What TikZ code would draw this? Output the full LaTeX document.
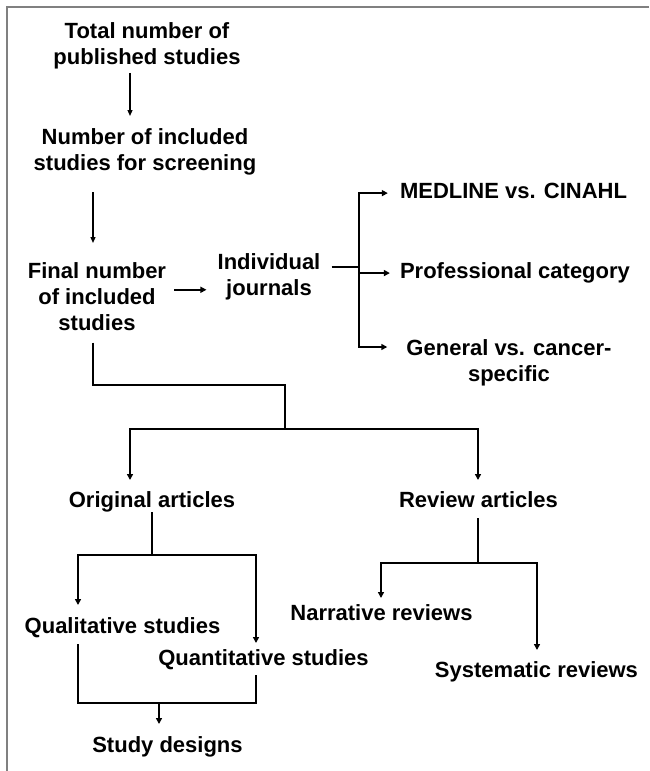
\documentclass[tikz,border=0pt]{standalone}
\usepackage{fontspec}
\setmainfont{Liberation Sans}
\usepackage{tikz}
\usetikzlibrary{arrows.meta}
\usetikzlibrary{calc}
\tikzset{text node/.style={font=\bfseries\fontsize{22}{26}\selectfont,align=center,inner sep=0pt},
	link/.style={line width=2.2pt},
	arrow link/.style={line width=2pt,-{Triangle[length=6pt,width=6pt]}},
	thin arrow/.style={line width=1.2pt,-{Triangle[length=6pt,width=5pt]}},}

\begin{document}
\begin{tikzpicture}[x=1pt, y=-1pt]
	\useasboundingbox (0,0) rectangle (649,771);
	\draw[line width=1.2pt, black!50] (649,7) -- (7,7) -- (7,771);

	\node[text node, anchor=north] (total) at (147,22) {Total number of\\published studies};
	\node[text node, anchor=north] (screen) at (145,128) {Number of included\\studies for screening};
	\node[text node, anchor=north] (final) at (97,262) {Final number\\of included\\studies};
	\node[text node, anchor=north] (journal) at (269,253) {Individual\\journals};
	\node[text node, anchor=base] (medline) at (513.5,198) {MEDLINE vs. CINAHL};
	\node[text node, anchor=base] (prof) at (515,278) {Professional category};
	\node[text node, anchor=north] (general) at (509,339) {General vs. cancer-\\specific};
	\node[text node, anchor=base] (orig) at (152,507) {Original articles};
	\node[text node, anchor=base] (review) at (478.5,507) {Review articles};
	\node[text node, anchor=base] (qual) at (122.5,633) {Qualitative studies};
	\node[text node, anchor=base] (quant) at (263.5,665) {Quantitative studies};
	\node[text node, anchor=base] (narr) at (381.5,620) {Narrative reviews};
	\node[text node, anchor=base] (syst) at (536.5,677) {Systematic reviews};
	\node[text node, anchor=base] (design) at (167.5,752) {Study designs};

	\coordinate (split) at (359,267);
	\coordinate (fork1) at (285,429);
	\coordinate (fork2) at (152,555);
	\coordinate (fork3) at (478,563);
	\coordinate (fork4) at (159,703);

	% first steps
	\draw[thin arrow] ($(total.south)+(-17,4)$) -- ($(screen.north)+(-15,-12)$);
	\draw[thin arrow] ($(screen.south)+(-52,17)$) -- ($(final.north)+(-4,-19)$);
	\draw[arrow link, shorten >=11pt] ($(final.east)+(8,-6.5)$) coordinate (out) -- (out -| journal.west);

	% journals
	\draw[link, shorten <=11pt] (split -| journal.east) -- (split);
	\draw[arrow link] (split) |- ($(medline.west)+(-12,2.7)$);
	\draw[arrow link] (split) |- ($(prof.west)+(-10,0.7)$);
	\draw[arrow link] (split) |- ($(general.north west)+(-19,8)$);

	% article types
	\draw[link] ($(final.south)+(-4,12)$) |- ($(fork1)+(0,-44)$) -- (fork1);
	\draw[arrow link] (fork1) -| ($(orig.base)+(-22,-27)$);
	\draw[arrow link] (fork1) -| ($(review.base)+(-0.5,-27)$);

	\draw[link] ($(orig.base)+(0,5)$) -- (fork2);
	\draw[arrow link] (fork2) -| ($(qual.base)+(-44.5,-28)$);
	\draw[arrow link] (fork2) -| ($(quant.base)+(-7.5,-22)$);

	\draw[link] ($(review.base)+(-0.5,11)$) -- (fork3);
	\draw[arrow link] (fork3) -| ($(narr.base)+(-0.5,-22)$);
	\draw[arrow link] (fork3) -| ($(syst.base)+(0.5,-27)$);

	% study designs
	\draw[link] ($(qual.base)+(-44.5,11)$) |- ($(quant.base)+(-7.5,38)$) -- ($(quant.base)+(-7.5,10)$);
	\draw[arrow link] (fork4) -- ($(design.base)+(-8.5,-28)$);
\end{tikzpicture}
\end{document}
